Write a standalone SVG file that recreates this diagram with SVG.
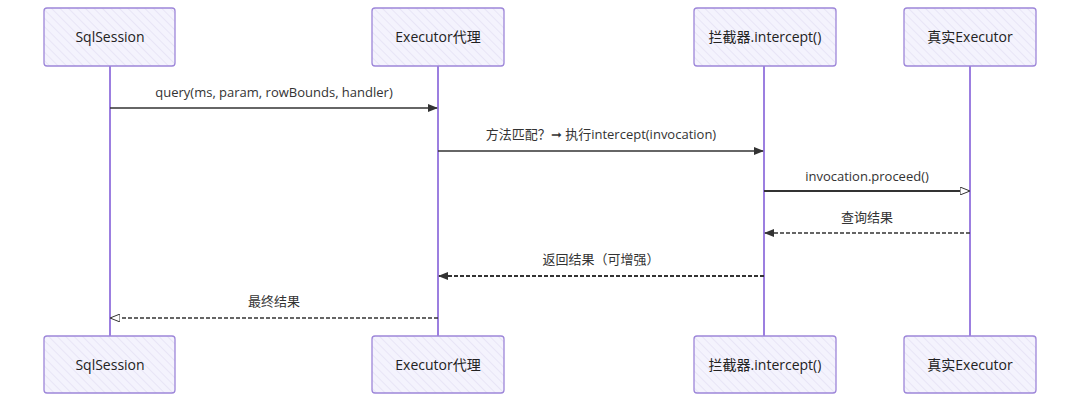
<svg xmlns="http://www.w3.org/2000/svg" width="1080" height="403" viewBox="0 0 1080 403">
<style>
.box{fill:url(#hatch);stroke:#9d86d9;stroke-width:1.3}
.life{stroke:#9c7fe0;stroke-width:2}
.lbl{font-family:"Open Sans","Noto Sans CJK SC",sans-serif;font-size:14px;fill:#222;text-anchor:middle}
.msg{font-family:"Open Sans","Noto Sans CJK SC",sans-serif;font-size:13px;fill:#333;text-anchor:middle}
.solid{stroke:#333;stroke-width:1.3;fill:none}
.dash{stroke:#333;stroke-width:1.3;fill:none;stroke-dasharray:4 2}
</style>
<defs>
<pattern id="hatch" patternUnits="userSpaceOnUse" width="6" height="6" patternTransform="rotate(-45)">
<rect width="6" height="6" fill="#f4f3fd"/>
<line x1="0" y1="0" x2="0" y2="6" stroke="#dcd8ef" stroke-width="1"/>
</pattern>
<marker id="arr" markerWidth="10" markerHeight="8" refX="9" refY="4" orient="auto" markerUnits="userSpaceOnUse">
<path d="M0,0 L10,4 L0,8 z" fill="#333"/>
</marker>
<marker id="arrOpen" markerWidth="10" markerHeight="8" refX="9" refY="4" orient="auto" markerUnits="userSpaceOnUse">
<path d="M0,0 L10,4 L0,8 z" fill="#fff" stroke="#333" stroke-width="1"/>
</marker>
</defs>
<g id="lifelines">
<line class="life" x1="110" y1="66" x2="110" y2="336"/>
<line class="life" x1="438" y1="66" x2="438" y2="336"/>
<line class="life" x1="764" y1="66" x2="764" y2="336"/>
<line class="life" x1="970" y1="66" x2="970" y2="336"/>
</g>
<g id="node-sqlsession-top"><rect class="box" x="44" y="8" width="131" height="58" rx="3"/><text class="lbl" x="110" y="42">SqlSession</text></g>
<g id="node-proxy-top"><rect class="box" x="372" y="8" width="132" height="58" rx="3"/><text class="lbl" x="438" y="42">Executor代理</text></g>
<g id="node-interceptor-top"><rect class="box" x="694" y="8" width="142" height="58" rx="3"/><text class="lbl" x="765" y="42">拦截器.intercept()</text></g>
<g id="node-executor-top"><rect class="box" x="904" y="8" width="132" height="58" rx="3"/><text class="lbl" x="970" y="42">真实Executor</text></g>
<g id="node-sqlsession-bottom"><rect class="box" x="44" y="336" width="131" height="57" rx="3"/><text class="lbl" x="110" y="370">SqlSession</text></g>
<g id="node-proxy-bottom"><rect class="box" x="372" y="336" width="132" height="57" rx="3"/><text class="lbl" x="438" y="370">Executor代理</text></g>
<g id="node-interceptor-bottom"><rect class="box" x="694" y="336" width="142" height="57" rx="3"/><text class="lbl" x="765" y="370">拦截器.intercept()</text></g>
<g id="node-executor-bottom"><rect class="box" x="904" y="336" width="132" height="57" rx="3"/><text class="lbl" x="970" y="370">真实Executor</text></g>
<g id="connectors">
<line class="solid" x1="110" y1="108" x2="437" y2="108" marker-end="url(#arr)"/>
<text class="msg" x="274" y="97">query(ms, param, rowBounds, handler)</text>
<line class="solid" x1="438" y1="151" x2="763" y2="151" marker-end="url(#arr)"/>
<text class="msg" x="601" y="139">方法匹配？➞ 执行intercept(invocation)</text>
<line class="solid" x1="764" y1="191" x2="969" y2="191" marker-end="url(#arrOpen)" style="stroke-width:2"/>
<text class="msg" x="867" y="181">invocation.proceed()</text>
<line class="dash" x1="970" y1="233" x2="765" y2="233" marker-end="url(#arr)"/>
<text class="msg" x="867" y="222">查询结果</text>
<line class="dash" x1="764" y1="276" x2="439" y2="276" marker-end="url(#arr)" style="stroke-width:1.8"/>
<text class="msg" x="601" y="264">返回结果（可增强）</text>
<line class="dash" x1="438" y1="318" x2="111" y2="318" marker-end="url(#arrOpen)"/>
<text class="msg" x="274" y="306">最终结果</text>
</g>
</svg>
